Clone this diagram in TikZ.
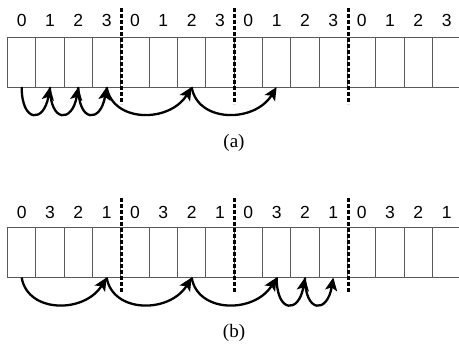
\documentclass[tikz,border=0pt]{standalone}
\usepackage{fontspec}
\setmainfont{Liberation Serif}
\newfontfamily\digitfont{Liberation Sans}
\usetikzlibrary{arrows.meta}
\begin{document}
\begin{tikzpicture}[x=1pt,y=-1pt,
  cell/.style={draw=gray!70!black, line width=0.9pt, minimum width=28.33pt, minimum height=50pt, inner sep=0pt, outer sep=0pt, anchor=north west},
  digit/.style={font=\digitfont\fontsize{17.5}{18}\selectfont, inner sep=0pt},
  jump/.style={line width=2.3pt, -{Stealth[length=13pt,width=12pt,inset=3pt]}},
  sepline/.style={line width=3pt, dash pattern=on 4pt off 2pt},
  captext/.style={font=\fontsize{19}{21}\selectfont, inner sep=0pt}]
\useasboundingbox (0,0) rectangle (459,346);
% row (a)
\foreach \i/\d in {0/0,1/1,2/2,3/3,4/0,5/1,6/2,7/3,8/0,9/1,10/2,11/3,12/0,13/1,14/2,15/3}{
  \node[cell] (a\i) at ({7.5+28.33*\i},37) {};
  \node[digit] (la\i) at ({21.67+28.33*\i},20.5) {\d};
}
\foreach \k in {1,2,3}{
  \coordinate (at\k) at ({8.3+113.32*\k},8);
  \coordinate (ab\k) at ({8.3+113.32*\k},104);
  \draw[sepline] (at\k) -- (ab\k);
}
\draw[jump] (a0.south) .. controls +(0,36) and +(-6,36) .. (a1.south);
\draw[jump] (a1.south) .. controls +(0,36) and +(-6,36) .. (a2.south);
\draw[jump] (a2.south) .. controls +(0,36) and +(-6,36) .. (a3.south);
\draw[jump] (a3.south) .. controls +(6,36) and +(-22,36) .. (a6.south);
\draw[jump] (a6.south) .. controls +(6,36) and +(-22,36) .. (a9.south);
\node[captext] (capa) at (234,143) {(a)};
% row (b)
\foreach \i/\d in {0/0,1/3,2/2,3/1,4/0,5/3,6/2,7/1,8/0,9/3,10/2,11/1,12/0,13/3,14/2,15/1}{
  \node[cell] (b\i) at ({7.5+28.33*\i},227.5) {};
  \node[digit] (lb\i) at ({21.67+28.33*\i},212) {\d};
}
\foreach \k in {1,2,3}{
  \coordinate (bt\k) at ({8.3+113.32*\k},198);
  \coordinate (bb\k) at ({8.3+113.32*\k},292);
  \draw[sepline] (bt\k) -- (bb\k);
}
\draw[jump] (b0.south) .. controls +(6,36) and +(-22,36) .. (b3.south);
\draw[jump] (b3.south) .. controls +(6,36) and +(-22,36) .. (b6.south);
\draw[jump] (b6.south) .. controls +(6,36) and +(-22,36) .. (b9.south);
\draw[jump] (b9.south) .. controls +(0,36) and +(-6,36) .. (b10.south);
\draw[jump] (b10.south) .. controls +(0,36) and +(-6,36) .. (b11.south);
\node[captext] (capb) at (234,333) {(b)};
\end{tikzpicture}
\end{document}
